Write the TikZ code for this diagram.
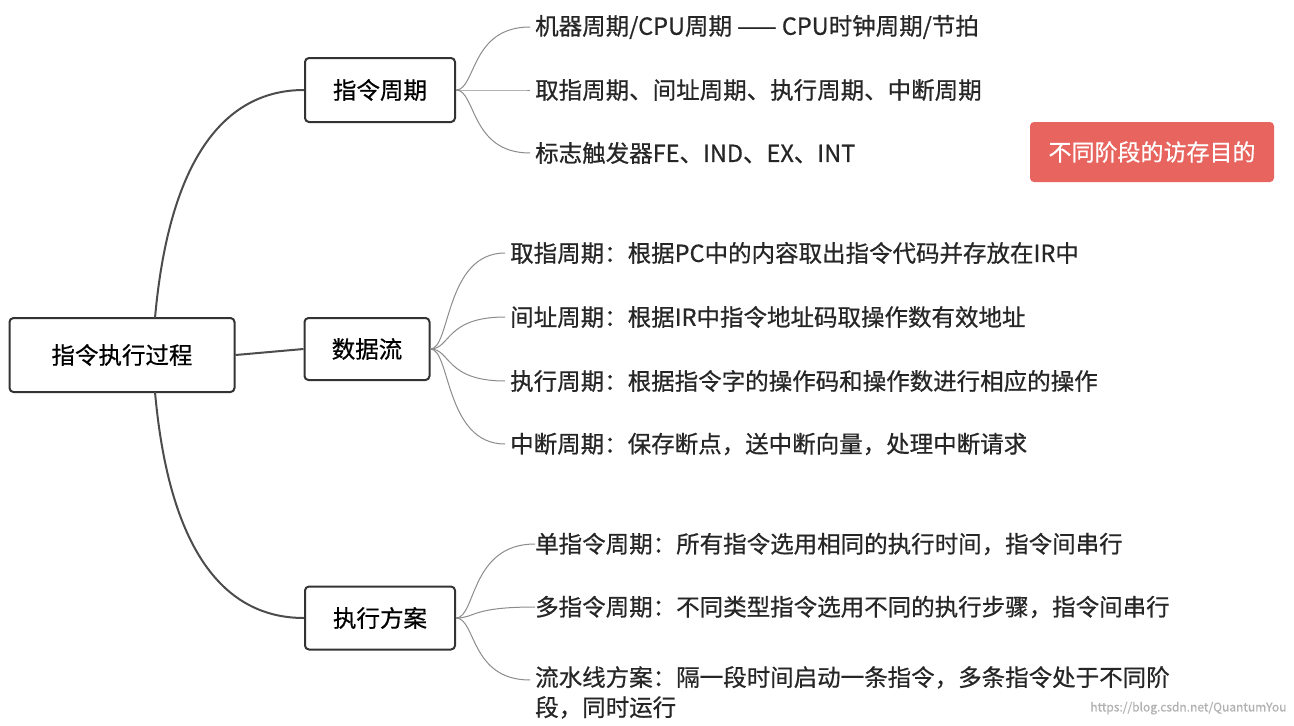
\documentclass[tikz,border=0pt]{standalone}
\usepackage{fontspec}
\setmainfont{Noto Sans CJK SC}[FakeBold=0.6]
\begin{document}
\begin{tikzpicture}[x=1pt,y=-1pt,
  box/.style={draw=black!80,line width=2pt,rounded corners=4pt,fill=white,inner sep=0pt},
  leaf/.style={anchor=west,inner sep=0pt,font=\fontsize{23.5}{30}\selectfont,text=black!85},
  br/.style={draw=black!70,line width=2pt},
  tw/.style={draw=black!45,line width=1pt}]
\useasboundingbox (0,0) rectangle (1294,726);
\fill[white] (0,0) rectangle (1294,726);
\node[box,minimum width=225pt,minimum height=74pt,font=\fontsize{23.5}{28}\selectfont] (root) at (122,355) {指令执行过程};
\node[box,minimum width=150pt,minimum height=64pt,font=\fontsize{23.5}{28}\selectfont] (a) at (380,90) {指令周期};
\node[box,minimum width=125pt,minimum height=62pt,font=\fontsize{23.5}{28}\selectfont] (b) at (367,349) {数据流};
\node[box,minimum width=150pt,minimum height=63pt,font=\fontsize{23.5}{28}\selectfont] (c) at (380,618) {执行方案};
\node[fill={rgb,255:red,232;green,100;blue,95},rounded corners=4pt,minimum width=244pt,minimum height=60pt,text=white,font=\fontsize{23}{28}\selectfont] (red) at (1152,152) {不同阶段的访存目的};
\coordinate (rt) at (155,318);
\coordinate (rb) at (155,392);
\coordinate (ax) at (470,0);
\coordinate (bx) at (445,0);
\draw[br] (rt) .. controls (170,150) and (230,90) .. (a.west);
\draw[br] (rb) .. controls (170,560) and (230,618) .. (c.west);
\draw[br] (root.east) -- (b.west);
\node[leaf] (a1) at (535,27) {机器周期/CPU周期 —— CPU时钟周期/节拍};
\node[leaf] (a2) at (535,90) {取指周期、间址周期、执行周期、中断周期};
\node[leaf] (a3) at (535,153) {标志触发器FE、IND、EX、INT};
\node[leaf] (b1) at (510,253) {取指周期：根据PC中的内容取出指令代码并存放在IR中};
\node[leaf] (b2) at (510,317) {间址周期：根据IR中指令地址码取操作数有效地址};
\node[leaf] (b3) at (510,381) {执行周期：根据指令字的操作码和操作数进行相应的操作};
\node[leaf] (b4) at (510,444) {中断周期：保存断点，送中断向量，处理中断请求};
\node[leaf] (c1) at (535,544) {单指令周期：所有指令选用相同的执行时间，指令间串行};
\node[leaf] (c2) at (535,607) {多指令周期：不同类型指令选用不同的执行步骤，指令间串行};
\node[leaf,align=left,anchor=north west] (c3) at (535,666) {流水线方案：隔一段时间启动一条指令，多条指令处于不同阶\\段，同时运行};
\coordinate (c3a) at (535,680);
\foreach \n in {a1,a2,a3} \draw[tw] (a.east) .. controls +(20,0) and (ax |- \n.west) .. ([xshift=-5pt]\n.west);
\foreach \n in {b1,b2,b3,b4} \draw[tw] (b.east) .. controls +(20,0) and (bx |- \n.west) .. ([xshift=-5pt]\n.west);
\foreach \n in {c1,c2,c3a} \draw[tw] (c.east) .. controls +(20,0) and (ax |- \n) .. ([xshift=-5pt]\n);
\node[anchor=south east,text=black!30,font=\fontsize{12}{14}\selectfont] (url) at (1290,718) {https://blog.csdn.net/QuantumYou};
\end{tikzpicture}
\end{document}
